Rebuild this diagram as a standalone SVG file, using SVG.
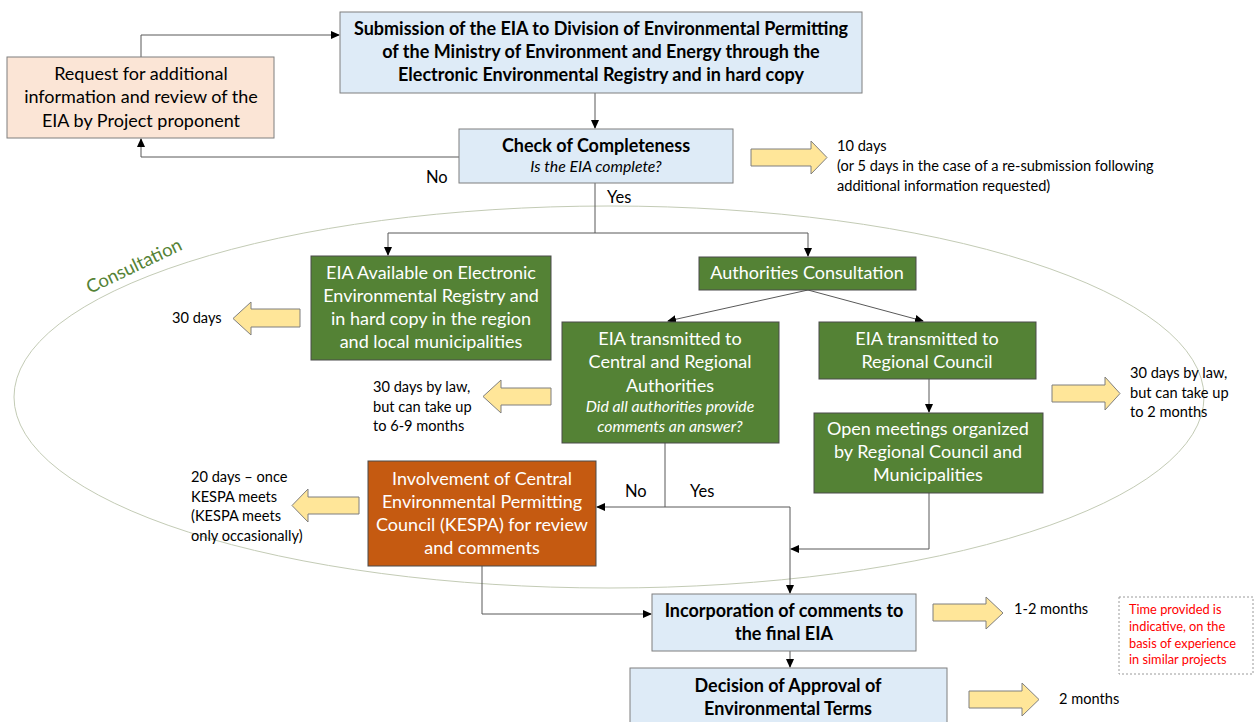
<svg xmlns="http://www.w3.org/2000/svg" width="1255" height="722" viewBox="0 0 1255 722">
<style>
text{font-family:Lato,"Liberation Sans",sans-serif;}
.t{font-size:18px;text-anchor:middle;}
.b{font-weight:bold;}
.w{fill:#ffffff;}
.k{fill:#000000;}
.i{font-style:italic;font-size:15.8px;}
.s{font-size:14.6px;fill:#000000;}
.r{font-size:12.8px;fill:#ff0000;}
.blue{fill:#deebf7;stroke:#7f7f7f;stroke-width:1;}
.peach{fill:#fbe5d6;stroke:#7f7f7f;stroke-width:1;}
.green{fill:#548235;stroke:#4a4a4a;stroke-width:1;}
.orange{fill:#c55a11;stroke:#4a4a4a;stroke-width:1;}
.ya{fill:#ffe699;stroke:#7f7f7f;stroke-width:1;}
.c{fill:none;stroke:#595959;stroke-width:1;}
</style>
<defs>
<marker id="ah" markerWidth="9" markerHeight="8" refX="8" refY="4" orient="auto" markerUnits="userSpaceOnUse">
<path d="M0,0 L9,4 L0,8 Z" fill="#000"/>
</marker>
</defs>

<ellipse cx="609" cy="397" rx="595" ry="191" fill="none" stroke="#c3cbb5" stroke-width="1"/>
<text x="90" y="294" transform="rotate(-25.6 90 294)" style="font-size:18.5px;fill:#548235;">Consultation</text>

<g id="connectors">
<path class="c" d="M141,57 V35 H339" marker-end="url(#ah)"/>
<path class="c" d="M595,93 V128" marker-end="url(#ah)"/>
<path class="c" d="M459,157 H141 V139" marker-end="url(#ah)"/>
<path class="c" d="M595,183 V233"/>
<path class="c" d="M388,233 H808"/>
<path class="c" d="M388,233 V255" marker-end="url(#ah)"/>
<path class="c" d="M808,233 V256" marker-end="url(#ah)"/>
<path class="c" d="M808,290 L668,321" marker-end="url(#ah)"/>
<path class="c" d="M808,290 L923,321" marker-end="url(#ah)"/>
<path class="c" d="M929,379 V412" marker-end="url(#ah)"/>
<path class="c" d="M665,443 V507"/>
<path class="c" d="M790,507 H597" marker-end="url(#ah)"/>
<path class="c" d="M790,507 V593" marker-end="url(#ah)"/>
<path class="c" d="M929,493 V549 H791" marker-end="url(#ah)"/>
<path class="c" d="M482,566 V614 H651" marker-end="url(#ah)"/>
<path class="c" d="M790,651 V667" marker-end="url(#ah)"/>
<text x="426" y="183" class="s" style="font-size:16.5px;">No</text>
<text x="607" y="203" class="s" style="font-size:16.5px;">Yes</text>
<text x="625" y="497" class="s" style="font-size:16.5px;">No</text>
<text x="690" y="497" class="s" style="font-size:16.5px;">Yes</text>
</g>

<g id="node-submission">
<rect class="blue" x="340" y="12" width="522" height="81"/>
<text class="t b k" x="601" y="35">Submission of the EIA to Division of Environmental Permitting</text>
<text class="t b k" x="601" y="58">of the Ministry of Environment and Energy through the</text>
<text class="t b k" x="601" y="81">Electronic Environmental Registry and in hard copy</text>
</g>

<g id="node-request">
<rect class="peach" x="7" y="57" width="267" height="81"/>
<text class="t k" x="141" y="80">Request for additional</text>
<text class="t k" x="141" y="103">information and review of the</text>
<text class="t k" x="141" y="127">EIA by Project proponent</text>
</g>

<g id="node-check">
<rect class="blue" x="459" y="129" width="274" height="54"/>
<text class="t b k" x="596" y="152">Check of Completeness</text>
<text class="t i k" x="596" y="172">Is the EIA complete?</text>
</g>

<g id="time-check">
<polygon class="ya" points="751,149 811,149 811,141 827,157.5 811,174 811,166 751,166"/>
<text class="s" x="837" y="151">10 days</text>
<text class="s" x="837" y="171">(or 5 days in the case of a re-submission following</text>
<text class="s" x="837" y="191">additional information requested)</text>
</g>

<g id="node-available">
<rect class="green" x="311" y="256" width="240" height="104"/>
<text class="t w" x="431" y="279">EIA Available on Electronic</text>
<text class="t w" x="431" y="302">Environmental Registry and</text>
<text class="t w" x="431" y="325">in hard copy in the region</text>
<text class="t w" x="431" y="348">and local municipalities</text>
</g>

<g id="time-available">
<polygon class="ya" points="300,309 251,309 251,302 233,318.5 251,335 251,327 300,327"/>
<text class="s" x="172" y="323">30 days</text>
</g>

<g id="node-authorities">
<rect class="green" x="699" y="257" width="217" height="33"/>
<text class="t w" x="807" y="279">Authorities Consultation</text>
</g>

<g id="node-central">
<rect class="green" x="562" y="322" width="217" height="121"/>
<text class="t w" x="670" y="345">EIA transmitted to</text>
<text class="t w" x="670" y="368">Central and Regional</text>
<text class="t w" x="670" y="392">Authorities</text>
<text class="t i w" x="670" y="412">Did all authorities provide</text>
<text class="t i w" x="670" y="432">comments an answer?</text>
</g>

<g id="time-central">
<polygon class="ya" points="551,388 501,388 501,380 483,396.5 501,413 501,405 551,405"/>
<text class="s" x="373" y="392">30 days by law,</text>
<text class="s" x="373" y="412">but can take up</text>
<text class="s" x="373" y="431">to 6-9 months</text>
</g>

<g id="node-regional">
<rect class="green" x="819" y="322" width="217" height="57"/>
<text class="t w" x="927" y="345">EIA transmitted to</text>
<text class="t w" x="927" y="368">Regional Council</text>
</g>

<g id="node-meetings">
<rect class="green" x="814" y="413" width="229" height="80"/>
<text class="t w" x="928" y="435">Open meetings organized</text>
<text class="t w" x="928" y="458">by Regional Council and</text>
<text class="t w" x="928" y="481">Municipalities</text>
</g>

<g id="time-regional">
<polygon class="ya" points="1052,385 1105,385 1105,377 1120,393.5 1105,410 1105,402 1052,402"/>
<text class="s" x="1130" y="378">30 days by law,</text>
<text class="s" x="1130" y="398">but can take up</text>
<text class="s" x="1130" y="417">to 2 months</text>
</g>

<g id="node-kespa">
<rect class="orange" x="368" y="461" width="228" height="105"/>
<text class="t w" x="482" y="485">Involvement of Central</text>
<text class="t w" x="482" y="508">Environmental Permitting</text>
<text class="t w" x="482" y="531">Council (KESPA) for review</text>
<text class="t w" x="482" y="554">and comments</text>
</g>

<g id="time-kespa">
<polygon class="ya" points="359,497 308,497 308,489 292,505.5 308,522 308,514 359,514"/>
<text class="s" x="191" y="482">20 days – once</text>
<text class="s" x="191" y="502">KESPA meets</text>
<text class="s" x="191" y="521">(KESPA meets</text>
<text class="s" x="191" y="541">only occasionally)</text>
</g>

<g id="node-incorporation">
<rect class="blue" x="652" y="594" width="264" height="57"/>
<text class="t b k" x="784" y="617">Incorporation of comments to</text>
<text class="t b k" x="784" y="640">the final EIA</text>
</g>

<g id="time-incorporation">
<polygon class="ya" points="933,604 986,604 986,597 1003,613 986,629 986,621 933,621"/>
<text class="s" x="1014" y="614">1-2 months</text>
</g>

<g id="node-decision">
<rect class="blue" x="630" y="668" width="317" height="62"/>
<text class="t b k" x="788" y="692">Decision of Approval of</text>
<text class="t b k" x="788" y="715">Environmental Terms</text>
</g>

<g id="time-decision">
<polygon class="ya" points="969,691 1022,691 1022,683 1039,699.5 1022,716 1022,708 969,708"/>
<text class="s" x="1059" y="704">2 months</text>
</g>

<g id="note">
<rect x="1119" y="597" width="134" height="77" fill="#ffffff" stroke="#9a9a9a" stroke-width="1" stroke-dasharray="2,2"/>
<text class="r" x="1129" y="614">Time provided is</text>
<text class="r" x="1129" y="631">indicative, on the</text>
<text class="r" x="1129" y="648">basis of experience</text>
<text class="r" x="1129" y="664">in similar projects</text>
</g>
</svg>
